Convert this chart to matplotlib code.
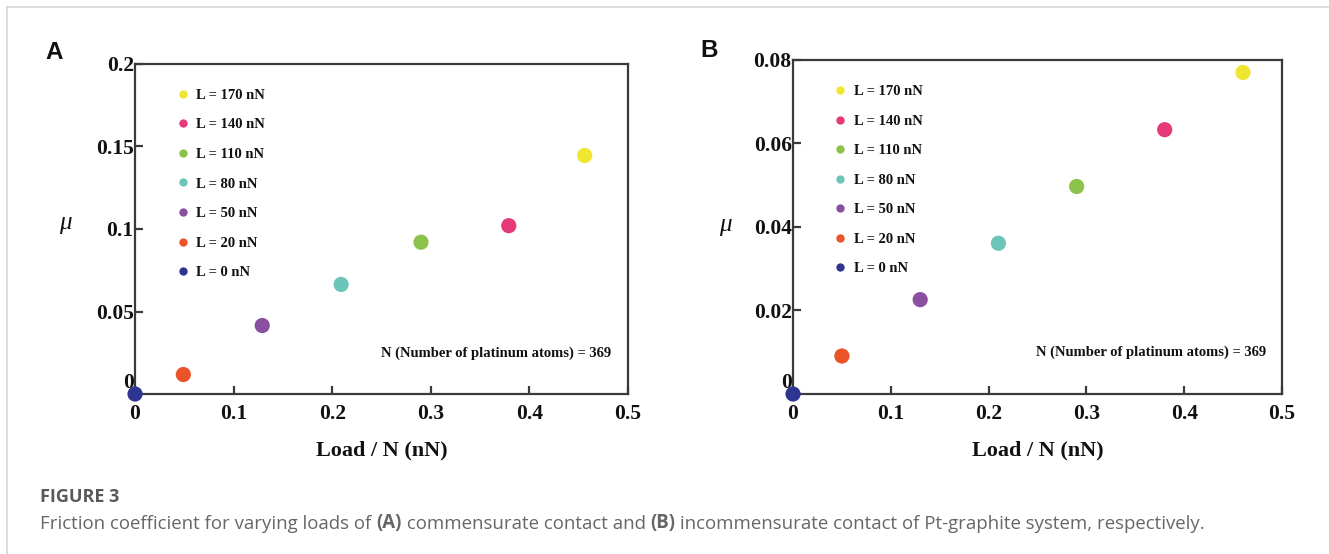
import matplotlib
matplotlib.use("Agg")
import matplotlib.pyplot as plt
from matplotlib.lines import Line2D
from matplotlib.transforms import ScaledTranslation

# data
loads = ["L = 0 nN", "L = 20 nN", "L = 50 nN", "L = 80 nN",
         "L = 110 nN", "L = 140 nN", "L = 170 nN"]
colors = ["#2d3591", "#eb5328", "#8b4fa0", "#6cc5b9",
          "#8bc34a", "#e5397a", "#f0e52f"]
xA = [0.0, 0.049, 0.129, 0.209, 0.29, 0.379, 0.456]
muA = [0.0, 0.0118, 0.0415, 0.0664, 0.092, 0.102, 0.1445]
xB = [0.0, 0.05, 0.13, 0.21, 0.29, 0.38, 0.46]
muB = [0.0, 0.0091, 0.0226, 0.0361, 0.0497, 0.0633, 0.077]
yticksA = [0, 0.05, 0.1, 0.15, 0.2]
yticklabelsA = ["0", "0.05", "0.1", "0.15", "0.2"]
yticksB = [0, 0.02, 0.04, 0.06, 0.08]
yticklabelsB = ["0", "0.02", "0.04", "0.06", "0.08"]
xticks = [0, 0.1, 0.2, 0.3, 0.4, 0.5]
xticklabels = ["0", "0.1", "0.2", "0.3", "0.4", "0.5"]

serif = "Liberation Serif"
spine_c = "#3a3a3a"

fig = plt.figure(figsize=(13.29, 5.54), dpi=100)


def panel(rect, x, mu, yticks, yticklabels, ymax, letter, ylab_xy, note_xy, leg_anchor):
    ax = fig.add_axes(rect)
    for xi, yi, c in zip(x, mu, colors):
        ax.scatter(xi, yi, s=120, color=c, edgecolors="none", zorder=5, clip_on=False)
    ax.set_xlim(0, 0.5)
    ax.set_ylim(0, ymax)
    ax.set_xticks(xticks)
    ax.set_xticklabels(xticklabels)
    ax.set_yticks(yticks)
    ax.set_yticklabels(yticklabels)
    for sp in ax.spines.values():
        sp.set_color(spine_c)
        sp.set_linewidth(1.6)
    ax.tick_params(direction="in", length=6, width=1.6, color=spine_c,
                   top=False, right=False)
    ax.tick_params(axis="x", pad=7)
    ax.tick_params(axis="y", pad=1)
    for lab in ax.get_xticklabels() + ax.get_yticklabels():
        lab.set_fontfamily(serif)
        lab.set_fontweight("bold")
        lab.set_fontsize(15.5)
        lab.set_color("#111111")
    # the "0" on the y axis sits a bit above the axis line
    t0 = ax.yaxis.get_major_ticks()[0].label1
    t0.set_transform(t0.get_transform() + ScaledTranslation(0, 0.14, fig.dpi_scale_trans))

    ax.set_xlabel("Load / N (nN)", fontfamily=serif, fontweight="bold", fontsize=16, color="#111111")
    ax.xaxis.set_label_coords(0.5, -0.14)
    ax.set_ylabel("μ", fontfamily=serif, fontstyle="italic", fontsize=18, rotation=0,
                  color="#111111", va="center", ha="center")
    ax.yaxis.set_label_coords(*ylab_xy)

    ax.text(note_xy[0], note_xy[1], "N (Number of platinum atoms) = 369", transform=ax.transAxes,
            ha="right", va="center", fontfamily=serif, fontweight="bold", fontsize=10.5, color="#111111")

    handles = [Line2D([], [], ls="none", marker="o", markersize=6, markerfacecolor=c,
                      markeredgecolor="none") for c in colors][::-1]
    leg = ax.legend(handles, loads[::-1], loc="upper left", bbox_to_anchor=leg_anchor,
                    frameon=False, handlelength=0.6, handletextpad=0.6, labelspacing=1.12,
                    borderpad=0, borderaxespad=0,
                    prop={"family": serif, "weight": "bold", "size": 10.5})
    for t in leg.get_texts():
        t.set_color("#111111")

    fig.text(letter[1], letter[2], letter[0], fontfamily="Liberation Sans", fontweight="bold",
             fontsize=17.5, ha="left", va="center", color="#111111")
    return ax


panel([0.1016, 0.2888, 0.371, 0.5957], xA, muA, yticksA, yticklabelsA, 0.2,
      ("A", 0.034, 0.905), (-0.142, 0.518), (0.966, 0.124), (0.088, 0.925))
panel([0.5967, 0.2888, 0.368, 0.603], xB, muB, yticksB, yticklabelsB, 0.08,
      ("B", 0.527, 0.908), (-0.139, 0.506), (0.967, 0.126), (0.088, 0.925))

# card border (top and left)
fig.add_artist(Line2D([7 / 1329, 1], [1 - 7 / 554, 1 - 7 / 554], color="#d6d6d6", lw=1.2))
fig.add_artist(Line2D([7 / 1329, 7 / 1329], [0, 1 - 7 / 554], color="#d6d6d6", lw=1.2))

# caption
cap_font = "Open Sans"
cap_c = "#666666"
cap_size = 13.4
fig.text(40 / 1329, 1 - 497 / 554, "FIGURE 3", fontfamily=cap_font, fontweight="bold",
         fontsize=13, color="#595959", va="center", ha="left")
parts = [("Friction coefficient for varying loads of ", "normal"), ("(A)", "bold"),
         (" commensurate contact and ", "normal"), ("(B)", "bold"),
         (" incommensurate contact of Pt-graphite system, respectively.", "normal")]
anchor = fig.text(40 / 1329, 1 - 533 / 554, parts[0][0], fontfamily=cap_font, fontsize=cap_size,
                  color=cap_c, va="bottom", ha="left")
# chain the caption pieces one after another
for s, w in parts[1:]:
    anchor = plt.annotate(s, xy=(1, 0), xycoords=anchor, va="bottom", ha="left",
                          fontfamily=cap_font, fontsize=cap_size, fontweight=w, color=cap_c,
                          annotation_clip=False)

fig.savefig("out.png", dpi=100)
